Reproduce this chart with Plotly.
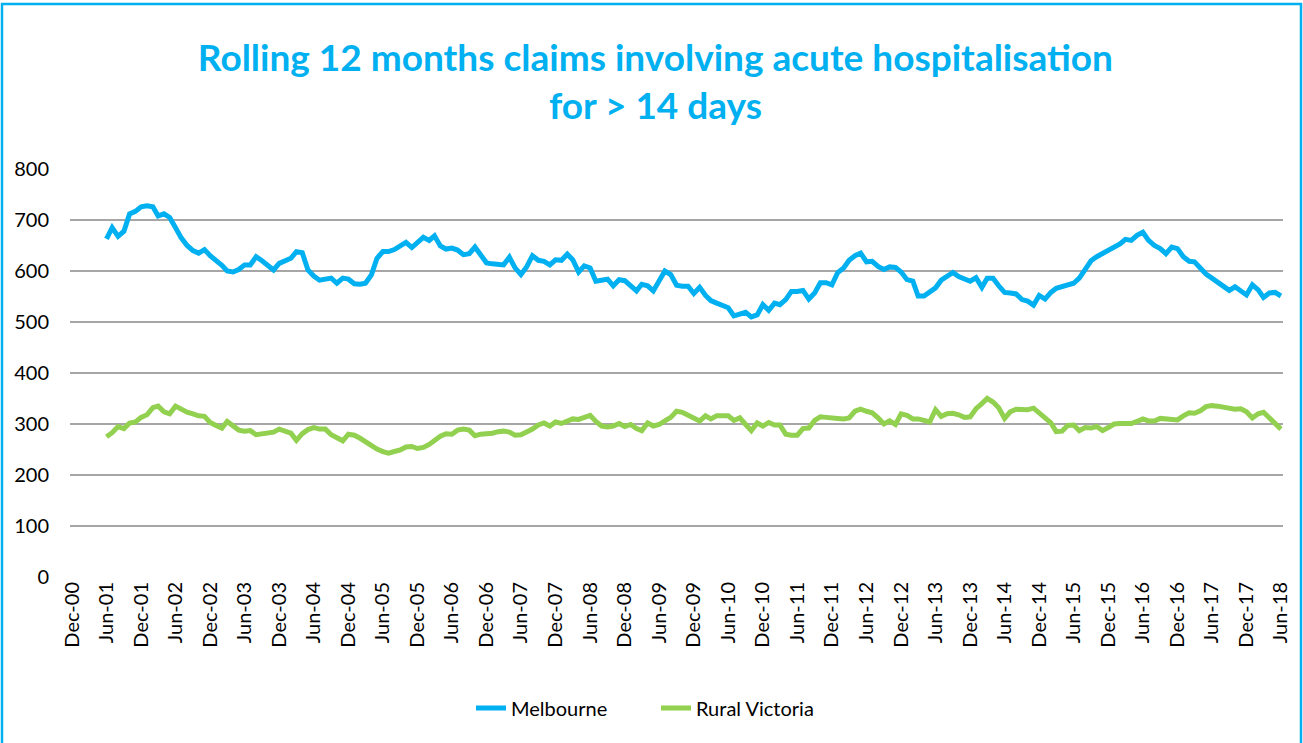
import plotly.graph_objects as go
import pandas as pd

months = pd.date_range("2001-06-01", "2018-06-01", freq="MS")

melbourne = [
    663, 685, 668, 678, 712, 717, 726, 728, 726, 708,
    712, 705, 685, 665, 650, 640, 635, 642, 630, 621,
    611, 600, 598, 603, 612, 612, 628, 620, 610, 602,
    615, 621, 625, 638, 636, 602, 590, 582, 585, 586,
    576, 586, 584, 575, 574, 576, 592, 625,
    638, 638, 642, 650, 656, 646, 657, 666, 660, 669,
    649, 643, 645, 641, 632, 634, 647, 633, 616, 614,
    614, 612, 627, 606, 593, 608, 630, 621, 619, 612,
    622, 621, 633, 622, 598, 610, 606, 580, 582, 584,
    571, 583, 581, 571, 561, 574, 571, 561, 583, 600,
    593, 572,
    570, 570, 556, 568, 552, 542, 537, 533, 528, 512,
    516, 519, 510, 514, 534, 523, 537, 534, 544, 560,
    560, 562, 545, 557, 577, 577, 573, 597, 606, 621,
    630, 635, 618, 619, 609, 603, 608, 607, 598, 583,
    580, 551, 551, 558, 567, 582, 590, 597, 589, 584,
    580, 587,
    568, 586, 586, 571, 558, 557, 555, 544, 541, 533,
    552, 545, 558, 566, 570, 572, 576, 586, 602, 620,
    628, 634, 640, 647, 653, 662, 660, 670, 676, 660,
    650, 644, 634, 647, 644, 628, 619, 618, 604, 594,
    586, 578, 570, 562, 569, 562, 553, 573, 563, 548,
    557, 558, 551,
]

rural = [
    275, 283, 295, 291, 302, 304, 313, 318, 332, 335,
    324, 320, 335, 329, 323, 320, 316, 315, 303, 297,
    292, 305, 297, 288, 286, 287, 279, 280, 282, 284,
    290, 286, 282, 268, 281, 289, 293, 290, 290, 279,
    272, 267, 280, 278, 272, 265, 257, 251,
    246, 243, 246, 249, 255, 256, 252, 254, 260, 268,
    276, 281, 280, 288, 290, 288, 277, 280, 280, 282,
    285, 286, 284, 278, 279, 284, 290, 298, 302, 296,
    304, 301, 307, 310, 309, 314, 317, 305, 296, 294,
    296, 301, 295, 299, 291, 287, 302, 296, 299, 306,
    313, 325,
    323, 317, 311, 306, 316, 310, 316, 317, 316, 307,
    312, 299, 287, 302, 296, 303, 298, 298, 280, 278,
    278, 291, 292, 307, 314, 313, 311, 311, 310, 312,
    325, 329, 325, 322, 312, 300, 306, 299, 320, 317,
    310, 310, 307, 304, 328, 315, 320, 321, 318, 313,
    314, 330,
    340, 350, 343, 332, 311, 324, 329, 329, 328, 331,
    323, 312, 302, 285, 286, 297, 298, 287, 293, 292,
    295, 287, 293, 300, 301, 301, 301, 305, 310, 306,
    306, 311, 310, 308, 308, 316, 322, 321, 326, 334,
    336, 335, 333, 330, 329, 330, 324, 312, 320, 323,
    312, 302, 290,
]

tick_dates = pd.date_range("2000-12-01", "2018-06-01", freq="6MS")
tick_labels = [d.strftime("%b-%y") for d in tick_dates]
y_ticks = [0, 100, 200, 300, 400, 500, 600, 700, 800]

BLUE = "#00B0F0"
GREEN = "#92D050"
FONT = "Lato"

fig = go.Figure()
fig.add_trace(go.Scatter(x=months, y=melbourne, name="Melbourne", mode="lines",
                         line=dict(color=BLUE, width=5)))
fig.add_trace(go.Scatter(x=months, y=rural, name="Rural Victoria", mode="lines",
                         line=dict(color=GREEN, width=5)))

W, H = 1303, 743
L, R, T, B = 70, 20, 169, 166
pw, ph = W - L - R, H - T - B

def px(x):
    return (x - L) / pw

def py(y):
    return (H - B - y) / ph

fig.update_layout(
    width=W, height=H,
    margin=dict(l=L, r=R, t=T, b=B),
    paper_bgcolor="white", plot_bgcolor="white",
    font=dict(family=FONT, color="#404040", size=18),
    title=dict(
        text="<b>Rolling 12 months claims involving acute hospitalisation<br>for &gt; 14 days</b>",
        x=0.503, xref="container", xanchor="center", y=1 - 71 / H, yanchor="middle",
        font=dict(family=FONT, size=37, color=BLUE),
    ),
    xaxis=dict(
        type="date",
        range=["2000-11-20", "2018-06-12"],
        tickmode="array", tickvals=tick_dates, ticktext=tick_labels,
        tickangle=-90, showgrid=False, showline=False, zeroline=False,
        ticks="", tickfont=dict(size=20, color="#000000"),
    ),
    yaxis=dict(
        range=[0, 800], tickvals=y_ticks, showgrid=True,
        gridcolor="#A6A6A6", gridwidth=1.5, zeroline=False, showline=False,
        ticks="", tickfont=dict(size=20, color="#000000"), ticklabelstandoff=20,
    ),
    legend=dict(orientation="h", x=px(656), xanchor="center", y=py(708), yanchor="middle",
                font=dict(size=20, color="#000000"), tracegroupgap=0,
                entrywidth=140, entrywidthmode="pixels"),
    showlegend=True,
    shapes=[dict(type="rect", xref="paper", yref="paper",
                 x0=px(2), x1=px(1301), y0=py(760), y1=py(4),
                 line=dict(color=BLUE, width=2.5), layer="below")],
)

fig.write_html("out.html", config={"displayModeBar": False},
               post_script="document.body.style.margin='0';document.body.style.overflow='hidden';")
